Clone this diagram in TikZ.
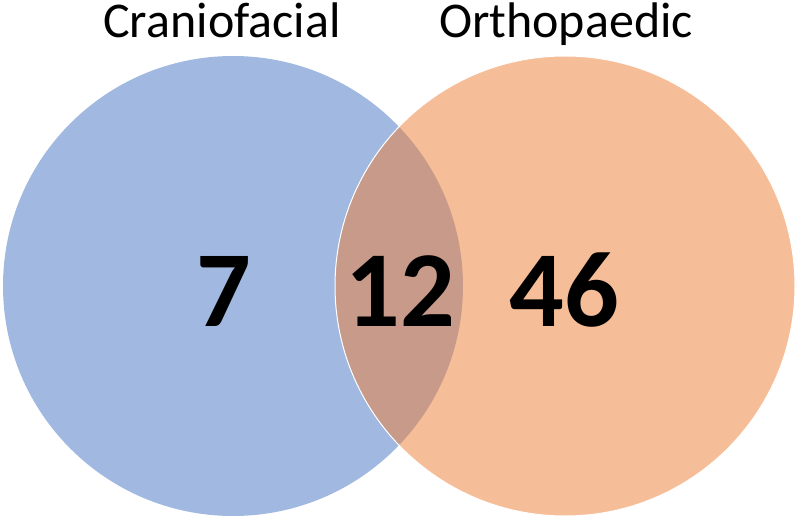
\documentclass[tikz,border=0pt]{standalone}
\usepackage{fontspec}
\setmainfont{Carlito}
\definecolor{Cranio}{HTML}{4472C4}
\definecolor{Ortho}{HTML}{ED7D31}
\tikzset{
  setlabel/.style={anchor=base,font=\fontsize{50}{56}\selectfont},
  setcount/.style={anchor=base,font=\bfseries\fontsize{108}{116}\selectfont},
}

\begin{document}
\begin{tikzpicture}[x=1pt,y=-1pt]
\path[use as bounding box] (0,0) rectangle (796,519);
\fill[Cranio,fill opacity=.5] (233,286) circle (230);
\filldraw[fill=Ortho,fill opacity=.5,draw=white,line width=1pt] (565,286) circle (230);
\node[setlabel] (cranio) at (222,38) {Craniofacial};
\node[setlabel] (ortho) at (566,38) {Orthopaedic};
\node[setcount] (only cranio) at (224,326) {7};
\node[setcount] (both) at (400,326) {12};
\node[setcount] (only ortho) at (564,326) {46};
\end{tikzpicture}
\end{document}
